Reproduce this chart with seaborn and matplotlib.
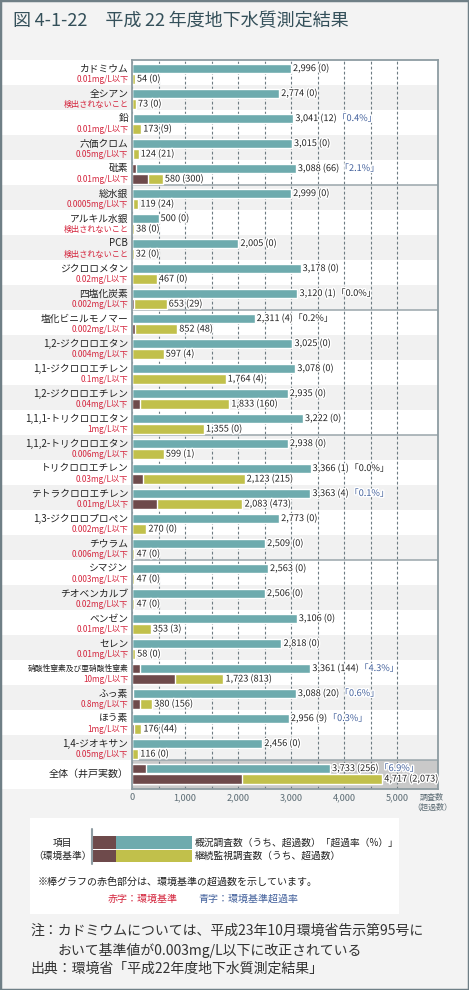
import matplotlib
matplotlib.use("Agg")
import matplotlib.pyplot as plt
import matplotlib.transforms as mtransforms
import matplotlib.patheffects as pe
from matplotlib.patches import Rectangle
from matplotlib.lines import Line2D
import numpy as np
import pandas as pd
import seaborn as sns

# ---------------- data ----------------
items = ["カドミウム", "全シアン", "鉛", "六価クロム", "砒素",
         "総水銀", "アルキル水銀", "PCB", "ジクロロメタン", "四塩化炭素",
         "塩化ビニルモノマー", "1,2-ジクロロエタン", "1,1-ジクロロエチレン", "1,2-ジクロロエチレン", "1,1,1-トリクロロエタン",
         "1,1,2-トリクロロエタン", "トリクロロエチレン", "テトラクロロエチレン", "1,3-ジクロロプロペン", "チウラム",
         "シマジン", "チオベンカルブ", "ベンゼン", "セレン", "硝酸性窒素及び亜硝酸性窒素",
         "ふっ素", "ほう素", "1,4-ジオキサン", "全体（井戸実数）"]
standards = ["0.01mg/L以下", "検出されないこと", "0.01mg/L以下", "0.05mg/L以下", "0.01mg/L以下",
             "0.0005mg/L以下", "検出されないこと", "検出されないこと", "0.02mg/L以下", "0.002mg/L以下",
             "0.002mg/L以下", "0.004mg/L以下", "0.1mg/L以下", "0.04mg/L以下", "1mg/L以下",
             "0.006mg/L以下", "0.03mg/L以下", "0.01mg/L以下", "0.002mg/L以下", "0.006mg/L以下",
             "0.003mg/L以下", "0.02mg/L以下", "0.01mg/L以下", "0.01mg/L以下", "10mg/L以下",
             "0.8mg/L以下", "1mg/L以下", "0.05mg/L以下", ""]
survey_total = [2996, 2774, 3041, 3015, 3088,
                2999, 500, 2005, 3178, 3120,
                2311, 3025, 3078, 2935, 3222,
                2938, 3366, 3363, 2773, 2509,
                2563, 2506, 3106, 2818, 3361,
                3088, 2956, 2456, 3733]
survey_exceed = [0, 0, 12, 0, 66,
                 0, 0, 0, 0, 1,
                 4, 0, 0, 0, 0,
                 0, 1, 4, 0, 0,
                 0, 0, 0, 0, 144,
                 20, 9, 0, 256]
monitor_total = [54, 73, 173, 124, 580,
                 119, 38, 32, 467, 653,
                 852, 597, 1764, 1833, 1355,
                 599, 2123, 2083, 270, 47,
                 47, 47, 353, 58, 1723,
                 380, 176, 116, 4717]
monitor_exceed = [0, 0, 9, 21, 300,
                  24, 0, 0, 0, 29,
                  48, 4, 4, 160, 0,
                  1, 215, 473, 0, 0,
                  0, 0, 3, 0, 813,
                  156, 44, 0, 2073]
rate_text = ["", "", "「0.4%」", "", "「2.1%」",
             "", "", "", "", "「0.0%」",
             "「0.2%」", "", "", "", "",
             "", "「0.0%」", "「0.1%」", "", "",
             "", "", "", "", "「4.3%」",
             "「0.6%」", "「0.3%」", "", "「6.9%」"]
rate_blue = [0, 0, 1, 0, 1,
             0, 0, 0, 0, 0,
             0, 0, 0, 0, 0,
             0, 0, 1, 0, 0,
             0, 0, 0, 0, 1,
             1, 1, 0, 1]
kinds = ["概況調査数", "継続監視調査数"]
xtick_values = [0, 1000, 2000, 3000, 4000, 5000]
xtick_labels = ["0", "1,000", "2,000", "3,000", "4,000", "5,000"]
grid_minor = [500, 1500, 2500, 3500, 4500]
group_ends = [4, 9, 14, 19, 27]

# ---------------- style ----------------
TEAL = "#6eabae"
OLIVE = "#c1c04b"
DARK = "#6e4a4b"
RED = "#d4253d"
BLUE = "#43619c"
TXT = "#222222"
BG = "#f3f3f3"
BAND = "#f1f1f1"

sns.set_theme(style="white")
plt.rcParams["font.family"] = ["Noto Sans CJK JP", "DejaVu Sans"]

W, H = 469, 990
fig = plt.figure(figsize=(W / 100, H / 100), dpi=100)
fig.patch.set_facecolor(BG)


def fy(py):
    return 1 - py / H


ax = fig.add_axes([132 / W, 1 - 789 / H, 305.5 / W, 729 / H])
ax.set_facecolor("white")

n = len(items)
df = pd.DataFrame({"item": items * 2,
                   "kind": [kinds[0]] * n + [kinds[1]] * n,
                   "count": survey_total + monitor_total})
dfx = pd.DataFrame({"item": items * 2,
                    "kind": [kinds[0]] * n + [kinds[1]] * n,
                    "count": survey_exceed + monitor_exceed})

common = dict(x="count", y="item", hue="kind", order=items, hue_order=kinds,
              orient="h", width=0.84, gap=0.14, dodge=True, legend=False,
              saturation=1, errorbar=None, ax=ax)
sns.barplot(data=df, palette=[TEAL, OLIVE], **common)
sns.barplot(data=dfx, palette=[DARK, DARK], **common)

top, bottom = -0.55, 27.45 + 29 / 25
ax.set_ylim(bottom, top)
ax.set_xlim(0, 5760)

# row bands (extend into the label area)
blend = mtransforms.blended_transform_factory(fig.transFigure, ax.transData)
for i in range(n):
    y0 = i - 0.55
    h = 1.0 if i < n - 1 else bottom - y0
    col = "white" if i % 2 == 0 else BAND
    ax.add_patch(Rectangle((2 / W, y0), 435.5 / W, h, transform=blend,
                           facecolor=col, edgecolor="none", zorder=0.1, clip_on=False))
ax.axhspan(27.45, bottom, color="#c9c9c9", zorder=0.15, lw=0)

for g in group_ends:
    ax.axhline(g + 0.45, color="#9aa6ab", lw=1.1, zorder=0.6)

# grid / ticks
ax.set_axisbelow(True)
ax.set_xticks(xtick_values)
ax.set_xticklabels(xtick_labels)
ax.set_xticks(grid_minor, minor=True)
ax.xaxis.grid(True, which="both", linestyle=(0, (2.5, 2)), color="#6d7b82", lw=0.8)
ax.yaxis.grid(False)
ax.set_yticks([])
ax.set_xlabel("")
ax.set_ylabel("")
ax.tick_params(axis="x", which="both", length=0, labelsize=6.6, labelcolor="#5d6d75", pad=3)
for s in ax.spines.values():
    s.set_visible(True)
    s.set_color("#8e9ca2")
    s.set_linewidth(1.3)

# labels
lab = mtransforms.blended_transform_factory(ax.transAxes, ax.transData)
for i, (name, std) in enumerate(zip(items, standards)):
    if std == "":
        ax.text(-0.012, i + 0.02, name, transform=lab, ha="right", va="center",
                fontsize=7.2, color=TXT)
        continue
    wide_chars = sum(1 for c in name if ord(c) > 127)
    fs = 5.6 if wide_chars > 10 else 7.0
    ax.text(-0.012, i - 0.21, name, transform=lab, ha="right", va="center",
            fontsize=fs, color=TXT)
    ax.text(-0.012, i + 0.21, std, transform=lab, ha="right", va="center",
            fontsize=5.9, color=RED)

halo = [pe.withStroke(linewidth=2, foreground="white")]
for i in range(n):
    t1 = ax.annotate(f"{survey_total[i]:,} ({survey_exceed[i]:,})", xy=(survey_total[i], i - 0.21),
                     xytext=(1.5, 0), textcoords="offset points", ha="left", va="center",
                     fontsize=6.6, color=TXT, path_effects=halo, zorder=5)
    ax.annotate(f"{monitor_total[i]:,} ({monitor_exceed[i]:,})", xy=(monitor_total[i], i + 0.21),
                xytext=(1.5, 0), textcoords="offset points", ha="left", va="center",
                fontsize=6.6, color=TXT, path_effects=halo, zorder=5)
    if rate_text[i]:
        ax.annotate(rate_text[i], xy=(1, 0.5), xycoords=t1, xytext=(0.5, 0),
                    textcoords="offset points", ha="left", va="center", fontsize=6.6,
                    color=BLUE if rate_blue[i] else TXT, path_effects=halo, zorder=5)

fig.text(432 / W, fy(797), "調査数", ha="center", va="center", fontsize=5.8, color="#5d6d75")
fig.text(432 / W, fy(807), "（超過数）", ha="center", va="center", fontsize=5.8, color="#5d6d75")

# title
fig.text(13 / W, fy(21), "図\u20094-1-22　平成\u200922\u2009年度地下水質測定結果", ha="left", va="center",
         fontsize=13, color="#34505a")

# legend box
fig.patches.append(Rectangle((30 / W, fy(914)), 369 / W, 96 / H, transform=fig.transFigure,
                             facecolor="white", edgecolor="none", zorder=0))
for (x0, x1, y0, y1, c) in [(92, 116, 836, 849, DARK), (116, 192, 836, 849, TEAL),
                            (92, 116, 850, 862, DARK), (116, 192, 850, 862, OLIVE)]:
    fig.patches.append(Rectangle((x0 / W, fy(y1)), (x1 - x0) / W, (y1 - y0) / H,
                                 transform=fig.transFigure, facecolor=c, edgecolor="none", zorder=1))
fig.lines.append(Line2D([92 / W, 92 / W], [fy(829), fy(864)], transform=fig.transFigure,
                        color="#8e9ca2", lw=1.5))
fig.text(62 / W, fy(843), "項目", ha="center", va="center", fontsize=7, color=TXT)
fig.text(62 / W, fy(856), "（環境基準）", ha="center", va="center", fontsize=7, color=TXT)
fig.text(195 / W, fy(843), "概況調査数（うち、超過数）「超過率（%）」", ha="left", va="center",
         fontsize=7, color=TXT)
fig.text(195 / W, fy(856), "継続監視調査数（うち、超過数）", ha="left", va="center",
         fontsize=7, color=TXT)
fig.text(38 / W, fy(882), "※棒グラフの赤色部分は、環境基準の超過数を示しています。", ha="left",
         va="center", fontsize=7.2, color=TXT)
fig.text(108 / W, fy(899), "赤字：環境基準", ha="left", va="center", fontsize=7.2, color=RED)
fig.text(198 / W, fy(899), "青字：環境基準超過率", ha="left", va="center", fontsize=7.2, color=BLUE)

# notes
fig.text(30 / W, fy(931), "注：カドミウムについては、平成23年10月環境省告示第95号に", ha="left",
         va="center", fontsize=10, color="#333333")
fig.text(57 / W, fy(950), "おいて基準値が0.003mg/L以下に改正されている", ha="left",
         va="center", fontsize=10, color="#333333")
fig.text(30 / W, fy(969), "出典：環境省「平成22年度地下水質測定結果」", ha="left",
         va="center", fontsize=10, color="#333333")

# outer border
fig.patches.append(Rectangle((0, 0), 1, 1, transform=fig.transFigure, fill=False,
                             edgecolor="#6f7f86", lw=2.5, zorder=10))

fig.savefig("out.png", dpi=100, facecolor=fig.get_facecolor())
